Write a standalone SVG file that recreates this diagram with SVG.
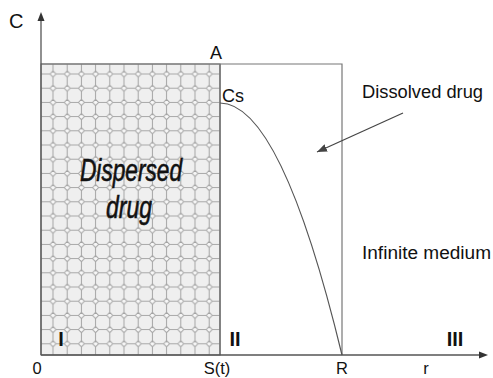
<svg xmlns="http://www.w3.org/2000/svg" width="493" height="378" viewBox="0 0 493 378">
<style>
.lbl{font-family:"Liberation Sans",Arial,sans-serif;font-size:18px;fill:#111}
.bot{font-family:"Liberation Sans",Arial,sans-serif;font-size:16.5px;fill:#111}
.reg{font-family:"Liberation Sans",Arial,sans-serif;font-size:20px;font-weight:bold;fill:#111}
.big{font-family:"Liberation Sans",Arial,sans-serif;font-size:32px;font-style:italic;fill:#111;stroke:#111;stroke-width:0.6}
.axis{stroke:#555;stroke-width:1.3;fill:none}
.box{stroke:#777;stroke-width:1.2;fill:none}
</style>
<defs>
<pattern id="oct" patternUnits="userSpaceOnUse" x="45.9" y="66.9" width="14.2" height="14.2">
<rect width="14.2" height="14.2" fill="#efefef"/>
<path d="M7.1 0V4.1M7.1 10.1V14.2M0 7.1H4.1M10.1 7.1H14.2M4.1 7.1L7.1 4.1L10.1 7.1L7.1 10.1Z" stroke="#a4a4a4" stroke-width="1" fill="#f8f8f8"/>
</pattern>
<marker id="ah" markerWidth="10" markerHeight="8" refX="10" refY="4" orient="auto" markerUnits="userSpaceOnUse">
<path d="M0 0L10 4L0 8Z" fill="#444"/>
</marker>
</defs>
<g id="dispersed">
<rect x="41" y="64" width="179" height="291" fill="url(#oct)" stroke="#888" stroke-width="1.2"/>
<line x1="220" y1="64" x2="220" y2="355" stroke="#777" stroke-width="1.6"/>
<text class="big" x="131" y="181" text-anchor="middle" textLength="102" lengthAdjust="spacingAndGlyphs">Dispersed</text>
<text class="big" x="129" y="218" text-anchor="middle" textLength="46" lengthAdjust="spacingAndGlyphs">drug</text>
</g>
<g id="frame">
<polyline class="box" points="41,64 342,64 342,355"/>
</g>
<g id="connectors">
<line class="axis" x1="41" y1="355" x2="41" y2="20"/>
<path d="M41 12L37.5 21H44.5Z" fill="#333"/>
<line class="axis" x1="41" y1="355" x2="480" y2="355"/>
<path d="M488 355L479 351.5V358.5Z" fill="#333"/>
<path d="M220 103Q281 103 342 355" fill="none" stroke="#555" stroke-width="1.2"/>
<line x1="403" y1="113" x2="317" y2="152" stroke="#444" stroke-width="1.2" marker-end="url(#ah)"/>
</g>
<g id="labels">
<text class="lbl" x="9" y="28" style="font-size:20px">C</text>
<text class="lbl" x="210" y="59">A</text>
<text class="lbl" x="222" y="102">Cs</text>
<text class="lbl" x="362" y="98" textLength="121" lengthAdjust="spacingAndGlyphs">Dissolved drug</text>
<text class="lbl" x="362" y="259" textLength="129" lengthAdjust="spacingAndGlyphs">Infinite medium</text>
<text class="reg" x="61" y="346" text-anchor="middle">I</text>
<text class="reg" x="235" y="346" text-anchor="middle">II</text>
<text class="reg" x="455" y="346" text-anchor="middle">III</text>
<text class="bot" x="37" y="374" text-anchor="middle">0</text>
<text class="bot" x="217" y="374" text-anchor="middle">S(t)</text>
<text class="bot" x="342" y="374" text-anchor="middle">R</text>
<text class="bot" x="426" y="374" text-anchor="middle">r</text>
</g>
</svg>
